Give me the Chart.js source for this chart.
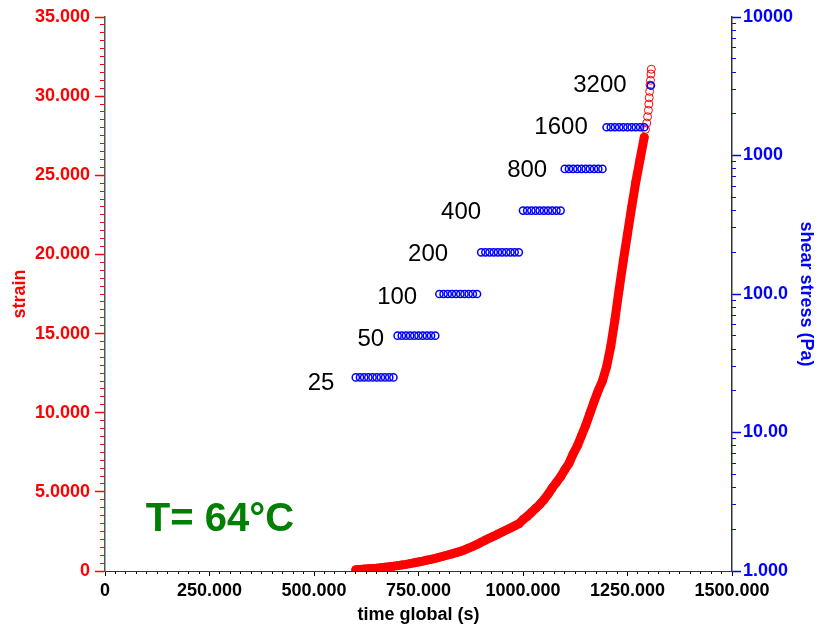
<!DOCTYPE html>
<html>
<head>
<meta charset="utf-8">
<script src="https://cdn.jsdelivr.net/npm/chart.js@4.4.1/dist/chart.umd.min.js"></script>
<style>
body { margin:0; background:#fff; }
</style>
</head>
<body>
<canvas id="chart" width="820" height="629"></canvas>
<script>
// strain vs time (left axis)
const strainTime = [600,610,620,630,640,650,660,670,680,690,
  700,710,720,730,740,750,760,770,780,790,
  800,810,820,830,840,850,860,870,880,890,
  900,910,920,930,940,950,960,970,980,990,
  1000,1010,1020,1030,1040,1050,1060,1070,1080,1090,
  1100,1110,1120,1130,1140,1150,1160,1170,1180,1190,
  1200,1210,1220,1230,1240,1250,1260,1270,1280,1290,
  1293,1296,1298,1300,1301,1302,1303,1304,1305,1306,1307];
const strainValue = [0.08,0.10,0.12,0.14,0.16,0.18,0.21,0.24,0.27,0.30,
  0.34,0.38,0.42,0.47,0.52,0.57,0.62,0.68,0.74,0.80,
  0.87,0.94,1.01,1.08,1.16,1.24,1.33,1.45,1.56,1.68,
  1.82,1.95,2.08,2.20,2.33,2.46,2.59,2.72,2.85,2.98,
  3.25,3.45,3.70,3.95,4.20,4.50,4.85,5.25,5.60,5.95,
  6.40,6.80,7.40,7.90,8.55,9.20,9.95,10.7,11.4,12.0,
  12.9,14.2,15.9,17.8,19.6,21.3,23.0,24.6,26.0,27.4,
  27.9,28.3,28.7,29.1,29.5,29.9,30.3,30.7,31.0,31.4,31.7];

// shear stress steps (right axis)
const stressTime = [600,610,620,630,640,650,660,670,680,690,
  700,710,720,730,740,750,760,770,780,790,
  800,810,820,830,840,850,860,870,880,890,
  900,910,920,930,940,950,960,970,980,990,
  1000,1010,1020,1030,1040,1050,1060,1070,1080,1090,
  1100,1110,1120,1130,1140,1150,1160,1170,1180,1190,
  1200,1210,1220,1230,1240,1250,1260,1270,1280,1290,
  1306];
const stressValue = [25,25,25,25,25,25,25,25,25,25,
  50,50,50,50,50,50,50,50,50,50,
  100,100,100,100,100,100,100,100,100,100,
  200,200,200,200,200,200,200,200,200,200,
  400,400,400,400,400,400,400,400,400,400,
  800,800,800,800,800,800,800,800,800,800,
  1600,1600,1600,1600,1600,1600,1600,1600,1600,1600,
  3200];

// step labels, placed in time / strain coordinates
const noteText = ["25","50","100","200","400","800","1600","3200"];
const noteTime = [517,636,699,773,852,1010,1091,1184];
const noteStrain = [11.88,14.66,17.31,20.03,22.68,25.33,28.05,30.70];

const tempText = "T= 64°C";
const tempTime = 275;
const tempStrain = 3.2;

const xTicks = [0,250,500,750,1000,1250,1500];
const xTickLabels = ["0","250.000","500.000","750.000","1000.000","1250.000","1500.000"];
const strainTicks = [0,5,10,15,20,25,30,35];
const strainTickLabels = ["0","5.0000","10.000","15.000","20.000","25.000","30.000","35.000"];
const stressTicks = [1,10,100,1000,10000];
const stressTickLabels = ["1.000","10.00","100.0","1000","10000"];

const xMinor = [];
for (let v = 0; v <= 1500; v += 25) xMinor.push(v);
const strainMinor = [];
for (let v = 0; v <= 70; v++) strainMinor.push(v / 2);
const stressMinor = [];
for (let e = 1; e <= 1000; e *= 10) {
  for (let m = 1; m <= 10; m++) stressMinor.push(m * e);
}

const FONT = "'Liberation Sans', Arial, sans-serif";
Chart.defaults.font.family = FONT;

const RED = "#ff0000";
const BLUE = "#0000ff";

const notes = {
  id: "notes",
  afterDatasetsDraw(chart) {
    const c = chart.ctx;
    const x = chart.scales.x;
    const y = chart.scales.y;
    c.save();
    c.textAlign = "center";
    c.textBaseline = "middle";
    c.fillStyle = "#000";
    c.font = "24px " + FONT;
    noteText.forEach((t, i) => {
      c.fillText(t, x.getPixelForValue(noteTime[i]), y.getPixelForValue(noteStrain[i]));
    });
    c.fillStyle = "#008000";
    c.font = "bold 40px " + FONT;
    c.fillText(tempText, x.getPixelForValue(tempTime), y.getPixelForValue(tempStrain));
    c.restore();
  }
};

function setTicks(list) {
  return s => { s.ticks = list.map(v => ({ value: v })); };
}

new Chart(document.getElementById("chart"), {
  type: "scatter",
  data: {
    datasets: [
      {
        label: "shear stress",
        data: stressTime.map((t, i) => ({ x: t, y: stressValue[i] })),
        xAxisID: "x",
        yAxisID: "y2",
        pointRadius: 3.6,
        pointBorderWidth: 1.5,
        pointBorderColor: BLUE,
        pointBackgroundColor: "rgba(0,0,0,0)",
        order: 0
      },
      {
        label: "strain",
        data: strainTime.map((t, i) => ({ x: t, y: strainValue[i] })),
        xAxisID: "x",
        yAxisID: "y",
        showLine: true,
        borderColor: RED,
        borderWidth: 9,
        borderJoinStyle: "round",
        borderCapStyle: "round",
        segment: {
          borderColor: ctx => ctx.p0.parsed.x >= 1290 ? "rgba(0,0,0,0)" : RED
        },
        pointRadius: 4,
        pointBorderWidth: 1,
        pointBorderColor: RED,
        pointBackgroundColor: "rgba(255,255,255,0)",
        order: 1
      }
    ]
  },
  options: {
    responsive: false,
    animation: false,
    layout: { padding: { top: 17, left: 0, right: 0, bottom: 0 } },
    plugins: { legend: { display: false }, tooltip: { enabled: false } },
    scales: {
      x: {
        type: "linear", position: "bottom", min: 0, max: 1500, weight: 1,
        afterBuildTicks: setTicks(xTicks),
        afterFit: s => { s.height = 58; },
        ticks: {
          color: "#000", padding: 4, maxRotation: 0, autoSkip: false,
          font: { size: 18, weight: "bold" },
          callback: v => xTickLabels[xTicks.indexOf(v)]
        },
        grid: { drawOnChartArea: false, tickLength: 5, tickColor: "#000" },
        border: { color: "#333", width: 1 },
        title: {
          display: true, text: "time global (s)", color: "#000",
          font: { size: 18, weight: "bold" }, padding: { top: 0, bottom: 3 }
        }
      },
      xMinor: {
        type: "linear", position: "bottom", min: 0, max: 1500, weight: 0,
        afterBuildTicks: setTicks(xMinor),
        afterFit: s => { s.height = 0; },
        ticks: { display: false, autoSkip: false },
        grid: { drawOnChartArea: false, tickLength: 3, tickColor: "#000" },
        border: { display: false }
      },
      y: {
        type: "linear", position: "left", min: 0, max: 35, weight: 1,
        afterBuildTicks: setTicks(strainTicks),
        afterFit: s => { s.width = 105; },
        ticks: {
          color: RED, padding: 5, autoSkip: false,
          font: { size: 18, weight: "bold" },
          callback: v => strainTickLabels[strainTicks.indexOf(v)]
        },
        grid: { drawOnChartArea: false, tickLength: 10, tickColor: RED, tickWidth: 1.5 },
        border: { color: "#555", width: 1.5 },
        title: {
          display: true, text: "strain", color: RED,
          font: { size: 18, weight: "bold" }, padding: { top: 9 }
        }
      },
      yMinor: {
        type: "linear", position: "left", min: 0, max: 35, weight: 0,
        afterBuildTicks: setTicks(strainMinor),
        afterFit: s => { s.width = 0; },
        ticks: { display: false, autoSkip: false },
        grid: { drawOnChartArea: false, tickLength: 5, tickColor: RED },
        border: { display: false }
      },
      y2: {
        type: "logarithmic", position: "right", min: 1, max: 10000, weight: 1,
        afterBuildTicks: setTicks(stressTicks),
        afterFit: s => { s.width = 88; },
        ticks: {
          color: BLUE, padding: 2, autoSkip: false,
          font: { size: 18, weight: "bold" },
          callback: v => stressTickLabels[stressTicks.indexOf(v)]
        },
        grid: { drawOnChartArea: false, tickLength: 9, tickColor: BLUE, tickWidth: 1.5 },
        border: { color: "#333", width: 1.5 },
        title: {
          display: true, text: "shear stress (Pa)", color: BLUE,
          font: { size: 18, weight: "bold" }, padding: { top: 3 }
        }
      },
      y2Minor: {
        type: "logarithmic", position: "right", min: 1, max: 10000, weight: 0,
        afterBuildTicks: setTicks(stressMinor),
        afterFit: s => { s.width = 0; },
        ticks: { display: false, autoSkip: false },
        grid: { drawOnChartArea: false, tickLength: 4, tickColor: BLUE },
        border: { display: false }
      }
    }
  },
  plugins: [notes]
});
</script>
</body>
</html>
